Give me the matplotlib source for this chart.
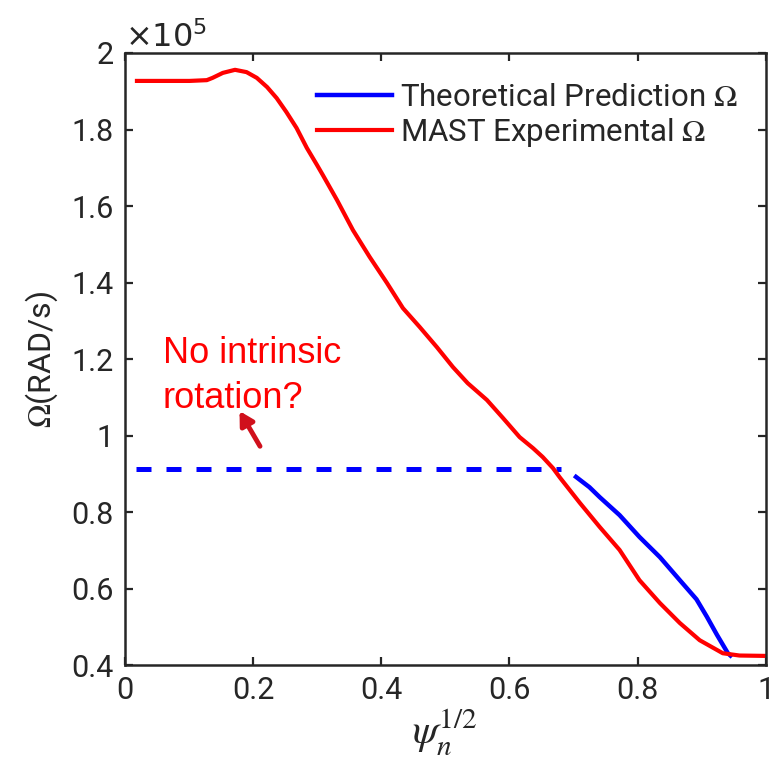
import matplotlib
matplotlib.use("Agg")
import matplotlib.pyplot as plt
from matplotlib.ticker import FuncFormatter

plt.rcParams["font.family"] = ["Roboto", "DejaVu Sans"]

# rotation profile (rad/s)
psi_exp = [0.019, 0.101, 0.128, 0.137, 0.153, 0.172, 0.190, 0.206, 0.222, 0.237,
           0.252, 0.268, 0.284, 0.300, 0.309, 0.331, 0.356, 0.382, 0.409, 0.434,
           0.460, 0.487, 0.512, 0.535, 0.565, 0.590, 0.616, 0.637, 0.652, 0.668,
           0.679, 0.710, 0.741, 0.772, 0.803, 0.835, 0.866, 0.897, 0.933, 0.959, 1.0]
omega_exp = [1.927e5, 1.927e5, 1.929e5, 1.935e5, 1.948e5, 1.956e5, 1.950e5, 1.935e5,
             1.911e5, 1.882e5, 1.846e5, 1.804e5, 1.752e5, 1.707e5, 1.681e5, 1.616e5,
             1.537e5, 1.467e5, 1.399e5, 1.333e5, 1.284e5, 1.231e5, 1.179e5, 1.137e5,
             1.093e5, 1.046e5, 0.996e5, 0.967e5, 0.944e5, 0.915e5, 0.890e5, 0.824e5,
             0.761e5, 0.701e5, 0.622e5, 0.562e5, 0.510e5, 0.465e5, 0.431e5, 0.425e5,
             0.424e5]

psi_theory = [0.704, 0.725, 0.741, 0.772, 0.803, 0.835, 0.866, 0.892, 0.908, 0.924,
              0.941, 0.945]
omega_theory = [0.892e5, 0.865e5, 0.839e5, 0.792e5, 0.735e5, 0.682e5, 0.622e5,
                0.572e5, 0.527e5, 0.479e5, 0.431e5, 0.425e5]

psi_flat = [0.017, 0.680]
omega_flat = [0.912e5, 0.912e5]

fig = plt.figure(figsize=(7.75, 7.68), dpi=100)
ax = fig.add_axes([0.161, 0.134, 0.827, 0.797])

ax.plot(psi_flat, omega_flat, color="#0000ff", lw=3.6, dashes=(3, 3))
ax.plot(psi_theory, omega_theory, color="#0000ff", lw=3.2,
        label=r"Theoretical Prediction $\Omega$")
ax.plot(psi_exp, omega_exp, color="#ff0000", lw=3.0,
        label=r"MAST Experimental $\Omega$")

ax.set_xlim(0, 1)
ax.set_ylim(0.4e5, 2.0e5)
ax.set_xticks([0, 0.2, 0.4, 0.6, 0.8, 1])
ax.set_yticks([0.4e5, 0.6e5, 0.8e5, 1.0e5, 1.2e5, 1.4e5, 1.6e5, 1.8e5, 2.0e5])
ax.xaxis.set_major_formatter(FuncFormatter(lambda v, p: f"{v:g}"))
ax.yaxis.set_major_formatter(FuncFormatter(lambda v, p: f"{v / 1e5:g}"))
ax.tick_params(direction="in", length=6, width=1.6, labelsize=22,
               colors="#262626", top=True, right=True, pad=8)
for s in ax.spines.values():
    s.set_linewidth(1.8)
    s.set_color("#262626")

ax.text(0.0, 1.0, r"$\times10^{5}$", transform=ax.transAxes, fontsize=23,
        color="#262626", ha="left", va="bottom", math_fontfamily="dejavusans")

ax.set_ylabel(r"$\Omega$(RAD/s)", fontsize=23, color="#262626",
              math_fontfamily="stix", labelpad=8)
ax.set_xlabel(r"$\psi_n^{1/2}$", fontsize=30, color="#262626",
              math_fontfamily="stix", labelpad=2)

leg = ax.legend(loc="center left", bbox_to_anchor=(0.2995, 0.897), frameon=False,
                handlelength=2.4, handletextpad=0.26, labelspacing=0.15,
                borderpad=0, borderaxespad=0, prop={"size": 22.5},
                labelcolor="#262626")
for t in leg.get_texts():
    t.set_math_fontfamily("stix")

ax.text(0.059, 1.19e5, "No intrinsic", color="#ff0000", fontsize=26,
        family="Liberation Sans", ha="left", va="baseline")
ax.text(0.059, 1.072e5, "rotation?", color="#ff0000", fontsize=26,
        family="Liberation Sans", ha="left", va="baseline")
ax.annotate("", xy=(0.179, 1.064e5), xytext=(0.211, 0.972e5),
            arrowprops=dict(arrowstyle="-|>,head_width=0.45,head_length=0.8",
                            color="#d0101c", lw=3.5, shrinkA=0, shrinkB=0))

fig.savefig("out.png", dpi=100, facecolor="white")
